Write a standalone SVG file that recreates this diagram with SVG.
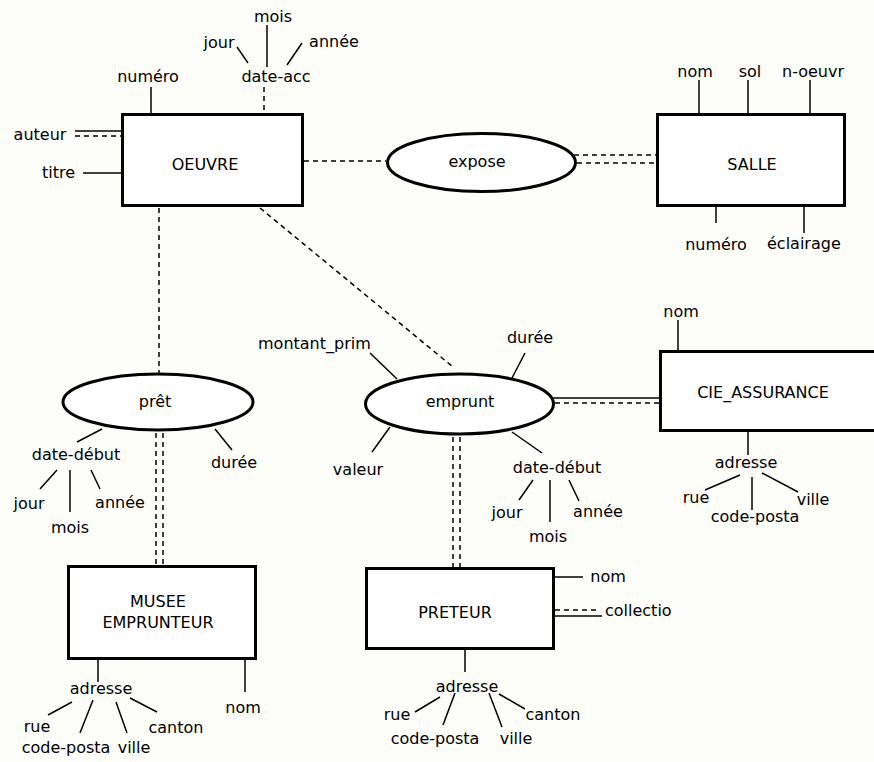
<svg xmlns="http://www.w3.org/2000/svg" width="874" height="762" viewBox="0 0 874 762">
<style>
text{font-family:"DejaVu Sans","Liberation Sans",sans-serif;font-size:16px;fill:#000}
.m{text-anchor:middle}
.box{fill:#fff;stroke:#000;stroke-width:3}
.ell{fill:#fff;stroke:#000;stroke-width:3}
.a{stroke:#000;stroke-width:1.5;fill:none}
.d{stroke:#000;stroke-width:1.5;fill:none;stroke-dasharray:5 4}
</style>
<rect width="874" height="762" fill="#fdfdf9"/>
<g id="connectors">
<line class="d" x1="304" y1="161" x2="386" y2="161"/>
<line class="d" x1="574" y1="155" x2="656" y2="155"/>
<line class="d" x1="577" y1="163" x2="656" y2="163"/>
<line class="d" x1="159" y1="208" x2="159" y2="373"/>
<line class="d" x1="260" y1="208" x2="453" y2="367"/>
<line class="d" x1="156" y1="433" x2="156" y2="565"/>
<line class="d" x1="163" y1="433" x2="163" y2="565"/>
<line class="d" x1="453" y1="437" x2="453" y2="567"/>
<line class="d" x1="460" y1="437" x2="460" y2="567"/>
<line class="a" x1="552" y1="398" x2="659" y2="398"/>
<line class="d" x1="555" y1="403" x2="659" y2="403"/>
</g>
<g id="oeuvre">
<rect class="box" x="122.5" y="114.5" width="180" height="91"/>
<text class="m" x="205" y="170">OEUVRE</text>
<line class="a" x1="151" y1="87" x2="151" y2="113"/>
<text class="m" x="148" y="82">numéro</text>
<line class="d" x1="264" y1="87" x2="264" y2="113"/>
<text class="m" x="276" y="82">date-acc</text>
<line class="a" x1="237" y1="47" x2="248" y2="63"/>
<text class="m" x="219" y="48">jour</text>
<line class="a" x1="267" y1="25" x2="267" y2="67"/>
<text class="m" x="273" y="22">mois</text>
<line class="a" x1="302" y1="43" x2="287" y2="65"/>
<text class="m" x="334" y="47">année</text>
<line class="a" x1="75" y1="131" x2="121" y2="131"/>
<line class="d" x1="75" y1="136" x2="121" y2="136"/>
<text class="m" x="40" y="140">auteur</text>
<line class="a" x1="83" y1="173" x2="121" y2="173"/>
<text x="42" y="178">titre</text>
</g>
<g id="expose">
<ellipse class="ell" cx="481.5" cy="162.5" rx="94" ry="29"/>
<text class="m" x="477" y="167">expose</text>
</g>
<g id="salle">
<rect class="box" x="657.5" y="114.5" width="187" height="91"/>
<text class="m" x="752" y="170">SALLE</text>
<line class="a" x1="699" y1="80" x2="699" y2="113"/>
<text class="m" x="695" y="77">nom</text>
<line class="a" x1="748" y1="80" x2="748" y2="113"/>
<text class="m" x="750" y="77">sol</text>
<line class="a" x1="810" y1="80" x2="810" y2="113"/>
<text x="782" y="77">n-oeuvr</text>
<line class="a" x1="716" y1="207" x2="716" y2="223"/>
<text class="m" x="716" y="250">numéro</text>
<line class="a" x1="804" y1="207" x2="804" y2="233"/>
<text x="767" y="249">éclairage</text>
</g>
<g id="pret">
<ellipse class="ell" cx="158" cy="402" rx="95" ry="28"/>
<text class="m" x="155" y="407">prêt</text>
<line class="a" x1="102" y1="429" x2="77" y2="442"/>
<text class="m" x="76" y="460">date-début</text>
<line class="a" x1="57" y1="470" x2="40" y2="489"/>
<text class="m" x="29" y="509">jour</text>
<line class="a" x1="70" y1="470" x2="70" y2="512"/>
<text class="m" x="70" y="533">mois</text>
<line class="a" x1="91" y1="470" x2="100" y2="489"/>
<text class="m" x="120" y="508">année</text>
<line class="a" x1="215" y1="429" x2="232" y2="450"/>
<text class="m" x="234" y="468">durée</text>
</g>
<g id="emprunt">
<ellipse class="ell" cx="459.5" cy="404" rx="94" ry="30"/>
<text class="m" x="460" y="407">emprunt</text>
<line class="a" x1="370" y1="353" x2="397" y2="379"/>
<text x="258" y="349">montant_prim</text>
<line class="a" x1="525" y1="353" x2="512" y2="378"/>
<text class="m" x="530" y="343">durée</text>
<line class="a" x1="372" y1="452" x2="390" y2="427"/>
<text class="m" x="358" y="475">valeur</text>
<line class="a" x1="512" y1="432" x2="542" y2="453"/>
<text class="m" x="557" y="473">date-début</text>
<line class="a" x1="533" y1="480" x2="519" y2="500"/>
<text class="m" x="507" y="518">jour</text>
<line class="a" x1="550" y1="480" x2="550" y2="522"/>
<text class="m" x="548" y="542">mois</text>
<line class="a" x1="569" y1="480" x2="579" y2="501"/>
<text class="m" x="598" y="517">année</text>
</g>
<g id="cie_assurance">
<rect class="box" x="660.5" y="351.5" width="230" height="79"/>
<text class="m" x="763" y="398">CIE_ASSURANCE</text>
<line class="a" x1="678" y1="320" x2="678" y2="350"/>
<text class="m" x="681" y="317">nom</text>
<line class="a" x1="748" y1="432" x2="748" y2="455"/>
<text class="m" x="746" y="468">adresse</text>
<line class="a" x1="705" y1="490" x2="740" y2="475"/>
<text class="m" x="696" y="503">rue</text>
<line class="a" x1="752" y1="477" x2="752" y2="510"/>
<text class="m" x="755" y="522">code-posta</text>
<line class="a" x1="762" y1="473" x2="798" y2="492"/>
<text class="m" x="813" y="505">ville</text>
</g>
<g id="musee_emprunteur">
<rect class="box" x="68.5" y="566.5" width="187" height="92"/>
<text class="m" x="158" y="607">MUSEE</text>
<text class="m" x="158" y="628">EMPRUNTEUR</text>
<line class="a" x1="98" y1="660" x2="98" y2="682"/>
<text class="m" x="101" y="694">adresse</text>
<line class="a" x1="48" y1="715" x2="72" y2="702"/>
<text class="m" x="37" y="732">rue</text>
<line class="a" x1="80" y1="733" x2="93" y2="700"/>
<text class="m" x="66" y="753">code-posta</text>
<line class="a" x1="116" y1="702" x2="127" y2="733"/>
<text class="m" x="134" y="753">ville</text>
<line class="a" x1="130" y1="698" x2="157" y2="712"/>
<text class="m" x="176" y="733">canton</text>
<line class="a" x1="245" y1="660" x2="245" y2="692"/>
<text class="m" x="243" y="713">nom</text>
</g>
<g id="preteur">
<rect class="box" x="366.5" y="568.5" width="187" height="80"/>
<text class="m" x="455" y="618">PRETEUR</text>
<line class="a" x1="555" y1="577" x2="583" y2="577"/>
<text class="m" x="608" y="582">nom</text>
<line class="d" x1="555" y1="610" x2="598" y2="610"/>
<line class="a" x1="555" y1="616" x2="602" y2="616"/>
<text x="605" y="616">collectio</text>
<line class="a" x1="465" y1="650" x2="465" y2="672"/>
<text class="m" x="467" y="692">adresse</text>
<line class="a" x1="415" y1="712" x2="440" y2="697"/>
<text class="m" x="397" y="720">rue</text>
<line class="a" x1="455" y1="693" x2="443" y2="725"/>
<text class="m" x="435" y="744">code-posta</text>
<line class="a" x1="489" y1="693" x2="502" y2="727"/>
<text class="m" x="516" y="744">ville</text>
<line class="a" x1="499" y1="694" x2="525" y2="709"/>
<text class="m" x="553" y="720">canton</text>
</g>
</svg>
